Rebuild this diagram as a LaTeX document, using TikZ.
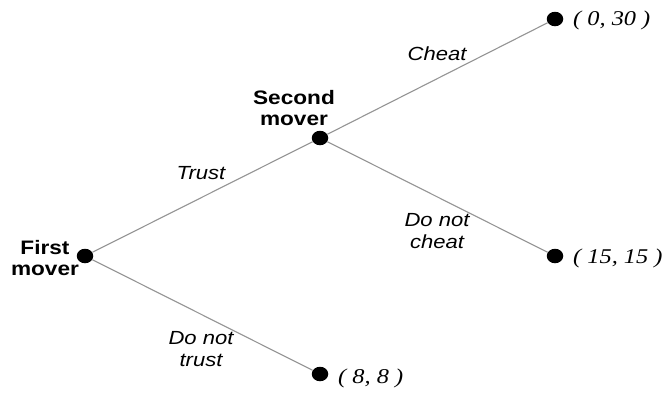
\documentclass[tikz,border=0pt]{standalone}
\usepackage{fontspec}
\setmainfont{Liberation Serif}
\setsansfont{Liberation Sans}
\usetikzlibrary{shapes.geometric}
\newcommand\sx[1]{\scalebox{1.16}[1]{#1}}
\tikzset{
  dot/.style={ellipse,fill=black,draw=none,minimum width=16.5pt,minimum height=14.5pt,inner sep=0pt},
  branch/.style={draw=black!42,line width=1.1pt},
  player/.style={font=\sffamily\bfseries\fontsize{19.5}{21}\selectfont,align=center,inner sep=0pt},
  move/.style={font=\sffamily\itshape\fontsize{19}{21.5}\selectfont,align=center,inner sep=0pt},
  payoff/.style={font=\itshape\fontsize{21}{21}\selectfont,inner sep=0pt,anchor=west}
}
\begin{document}
\begin{tikzpicture}[x=1pt,y=-1pt]
\useasboundingbox (0,0) rectangle (669,392);
\node[dot] (f) at (85,256) {};
\node[dot] (s) at (320,138) {};
\node[dot] (c) at (555,19) {};
\node[dot] (n) at (555,256) {};
\node[dot] (d) at (320,374) {};
\draw[branch] (f) -- (s);
\draw[branch] (f) -- (d);
\draw[branch] (s) -- (c);
\draw[branch] (s) -- (n);
\node[player] (fl) at (45,258) {\sx{First}\\\sx{mover}};
\node[player] (sl) at (294,108) {\sx{Second}\\\sx{mover}};
\node[move] (tl) at (201,173) {\sx{Trust}};
\node[move] (cl) at (437,54) {\sx{Cheat}};
\node[move] (nl) at (437,231) {\sx{Do not}\\\sx{cheat}};
\node[move] (dl) at (201,349) {\sx{Do not}\\\sx{trust}};
\node[payoff] (cp) at (573,20) {\sx{( 0, 30 )}};
\node[payoff] (np) at (573,258) {\sx{( 15, 15 )}};
\node[payoff] (dp) at (338,378) {\sx{( 8, 8 )}};
\end{tikzpicture}
\end{document}
